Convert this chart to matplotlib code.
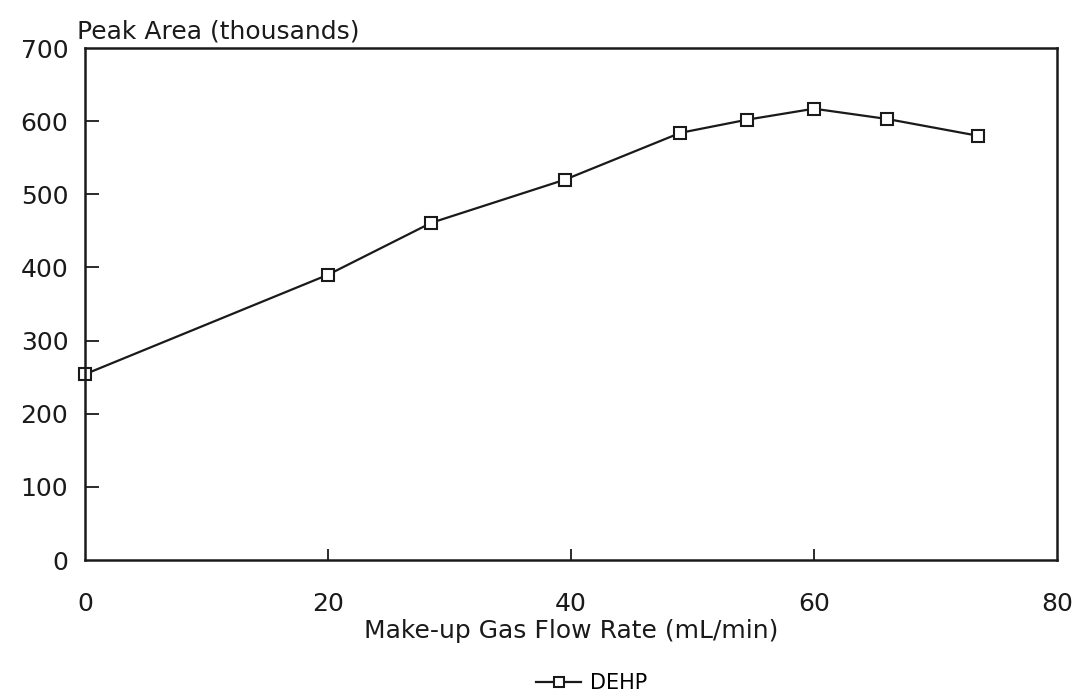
import matplotlib
matplotlib.use("Agg")
import matplotlib.pyplot as plt

flow_rate = [0, 20, 28.5, 39.5, 49, 54.5, 60, 66, 73.5]
peak_area = [254, 390, 461, 520, 584, 602, 617, 603, 580]
x_ticks = [0, 20, 40, 60, 80]
y_ticks = [0, 100, 200, 300, 400, 500, 600, 700]
series_name = "DEHP"

plt.rcParams['font.family'] = ['DejaVu Sans']

W, H = 1085, 697
fig = plt.figure(figsize=(W / 100, H / 100), dpi=100)
left, right, top, bottom = 85, 1057, 48, 560
ax = fig.add_axes([left / W, 1 - bottom / H, (right - left) / W, (bottom - top) / H])

line, = ax.plot(flow_rate, peak_area, color='#1a1a1a', lw=1.6, marker='s',
                markersize=9, markerfacecolor='white', markeredgecolor='#1a1a1a',
                markeredgewidth=1.5, clip_on=False, label=series_name)

ax.set_xlim(0, 80)
ax.set_ylim(0, 700)
ax.set_xticks(x_ticks)
ax.set_yticks(y_ticks)
ax.tick_params(axis='x', direction='in', length=8, width=1.3, pad=23,
               labelsize=18, colors='#1a1a1a')
ax.tick_params(axis='y', direction='in', length=10, width=1.3, pad=12,
               labelsize=18, colors='#1a1a1a')
for t in ax.xaxis.get_major_ticks()[::len(x_ticks) - 1]:
    t.tick1line.set_visible(False)
for t in [ax.yaxis.get_major_ticks()[0], ax.yaxis.get_major_ticks()[-1]]:
    t.tick1line.set_visible(False)
for s in ax.spines.values():
    s.set_linewidth(1.8)
    s.set_color('#1a1a1a')

ax.set_xlabel("Make-up Gas Flow Rate (mL/min)", fontsize=18, color='#1a1a1a', labelpad=2)
fig.text(77 / W, 1 - 31 / H, "Peak Area (thousands)", fontsize=18, color='#1a1a1a',
         ha='left', va='center')

fig.legend(handles=[line], loc='center', bbox_to_anchor=(0.545, 1 - 683 / H),
           frameon=False, fontsize=15, handlelength=2.2, markerscale=0.75,
           handletextpad=0.4)

fig.savefig("out.png", dpi=100, facecolor='white')
